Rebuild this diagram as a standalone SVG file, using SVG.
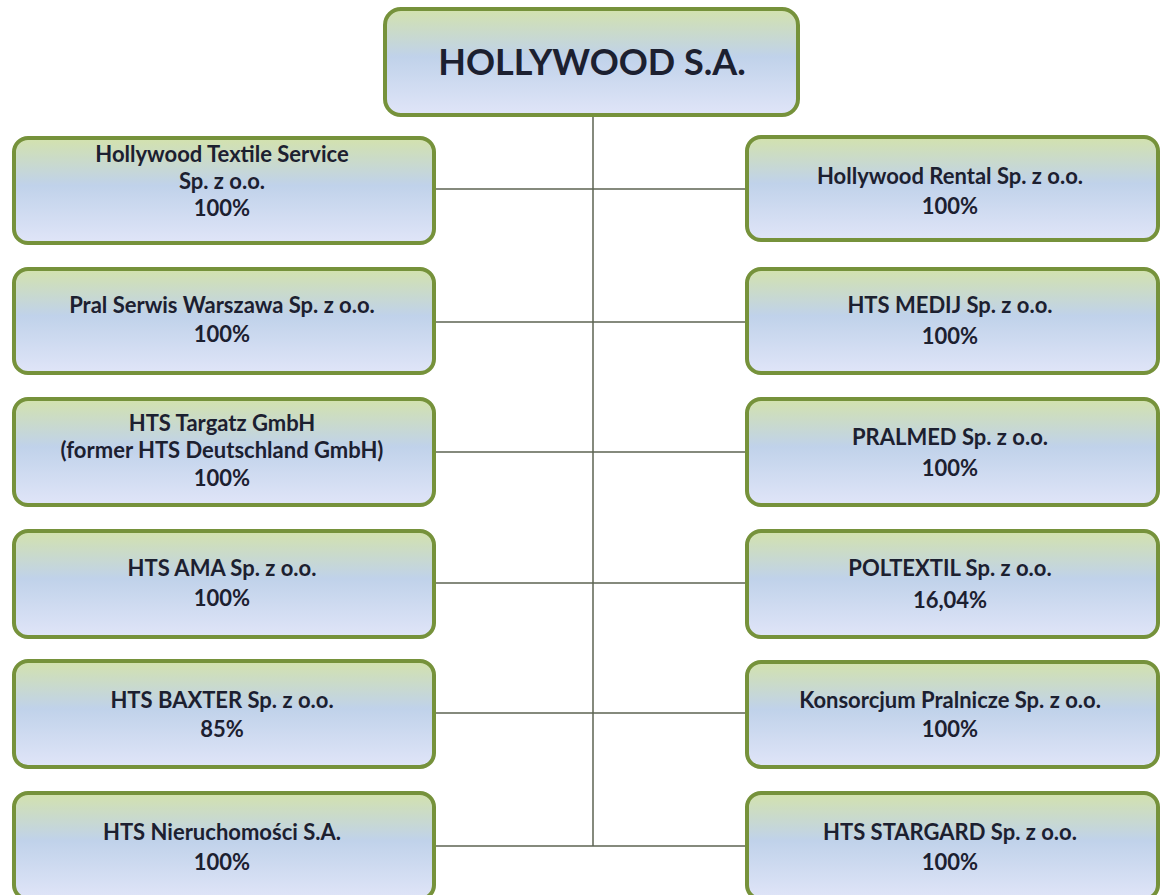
<svg xmlns="http://www.w3.org/2000/svg" width="1164" height="895" viewBox="0 0 1164 895">
<defs>
<linearGradient id="g" x1="0" y1="0" x2="0" y2="1">
<stop offset="0" stop-color="#d3e2ad"/>
<stop offset="0.45" stop-color="#c0d2ea"/>
<stop offset="1" stop-color="#e0e5f8"/>
</linearGradient>
<style>
.box{fill:url(#g);stroke:#76923b;stroke-width:4}
.t{font-family:Lato,"Open Sans","Liberation Sans",sans-serif;font-weight:bold;font-size:22px;fill:#1c2030;text-anchor:middle}
.title{font-size:36px}
.c{stroke:#5c6352;stroke-width:1.5;fill:none}
</style>
</defs>
<rect width="1164" height="895" fill="#ffffff"/>
<g id="connectors">
<line class="c" x1="593" y1="115" x2="593" y2="846"/>
<line class="c" x1="434" y1="189" x2="747" y2="189"/>
<line class="c" x1="434" y1="322" x2="747" y2="322"/>
<line class="c" x1="434" y1="452" x2="747" y2="452"/>
<line class="c" x1="434" y1="583" x2="747" y2="583"/>
<line class="c" x1="434" y1="713" x2="747" y2="713"/>
<line class="c" x1="434" y1="846" x2="747" y2="846"/>
</g>
<g id="root">
<rect class="box" x="385" y="9" width="413" height="106" rx="16"/>
<text class="t title" x="592" y="75">HOLLYWOOD S.A.</text>
</g>
<g id="l1">
<rect class="box" x="14" y="138" width="420" height="105" rx="14"/>
<text class="t" x="222" y="162">Hollywood Textile Service</text>
<text class="t" x="222" y="189">Sp. z o.o.</text>
<text class="t" x="222" y="216">100%</text>
</g>
<g id="l2">
<rect class="box" x="14" y="269" width="420" height="104" rx="14"/>
<text class="t" x="222" y="313">Pral Serwis Warszawa Sp. z o.o.</text>
<text class="t" x="222" y="342">100%</text>
</g>
<g id="l3">
<rect class="box" x="14" y="399" width="420" height="106" rx="14"/>
<text class="t" x="222" y="431">HTS Targatz GmbH</text>
<text class="t" x="222" y="458">(former HTS Deutschland GmbH)</text>
<text class="t" x="222" y="486">100%</text>
</g>
<g id="l4">
<rect class="box" x="14" y="531" width="420" height="106" rx="14"/>
<text class="t" x="222" y="576">HTS AMA Sp. z o.o.</text>
<text class="t" x="222" y="606">100%</text>
</g>
<g id="l5">
<rect class="box" x="14" y="661" width="420" height="106" rx="14"/>
<text class="t" x="222" y="708">HTS BAXTER Sp. z o.o.</text>
<text class="t" x="222" y="737">85%</text>
</g>
<g id="l6">
<rect class="box" x="14" y="793" width="420" height="106" rx="14"/>
<text class="t" x="222" y="840">HTS Nieruchomości S.A.</text>
<text class="t" x="222" y="870">100%</text>
</g>
<g id="r1">
<rect class="box" x="747" y="137" width="411" height="103" rx="14"/>
<text class="t" x="950" y="184">Hollywood Rental Sp. z o.o.</text>
<text class="t" x="950" y="214">100%</text>
</g>
<g id="r2">
<rect class="box" x="747" y="269" width="411" height="104" rx="14"/>
<text class="t" x="950" y="313">HTS MEDIJ Sp. z o.o.</text>
<text class="t" x="950" y="344">100%</text>
</g>
<g id="r3">
<rect class="box" x="747" y="399" width="411" height="106" rx="14"/>
<text class="t" x="950" y="445">PRALMED Sp. z o.o.</text>
<text class="t" x="950" y="476">100%</text>
</g>
<g id="r4">
<rect class="box" x="747" y="531" width="411" height="106" rx="14"/>
<text class="t" x="950" y="576">POLTEXTIL Sp. z o.o.</text>
<text class="t" x="950" y="608">16,04%</text>
</g>
<g id="r5">
<rect class="box" x="747" y="662" width="411" height="105" rx="14"/>
<text class="t" x="950" y="708">Konsorcjum Pralnicze Sp. z o.o.</text>
<text class="t" x="950" y="737">100%</text>
</g>
<g id="r6">
<rect class="box" x="747" y="793" width="411" height="106" rx="14"/>
<text class="t" x="950" y="840">HTS STARGARD Sp. z o.o.</text>
<text class="t" x="950" y="870">100%</text>
</g>
</svg>
